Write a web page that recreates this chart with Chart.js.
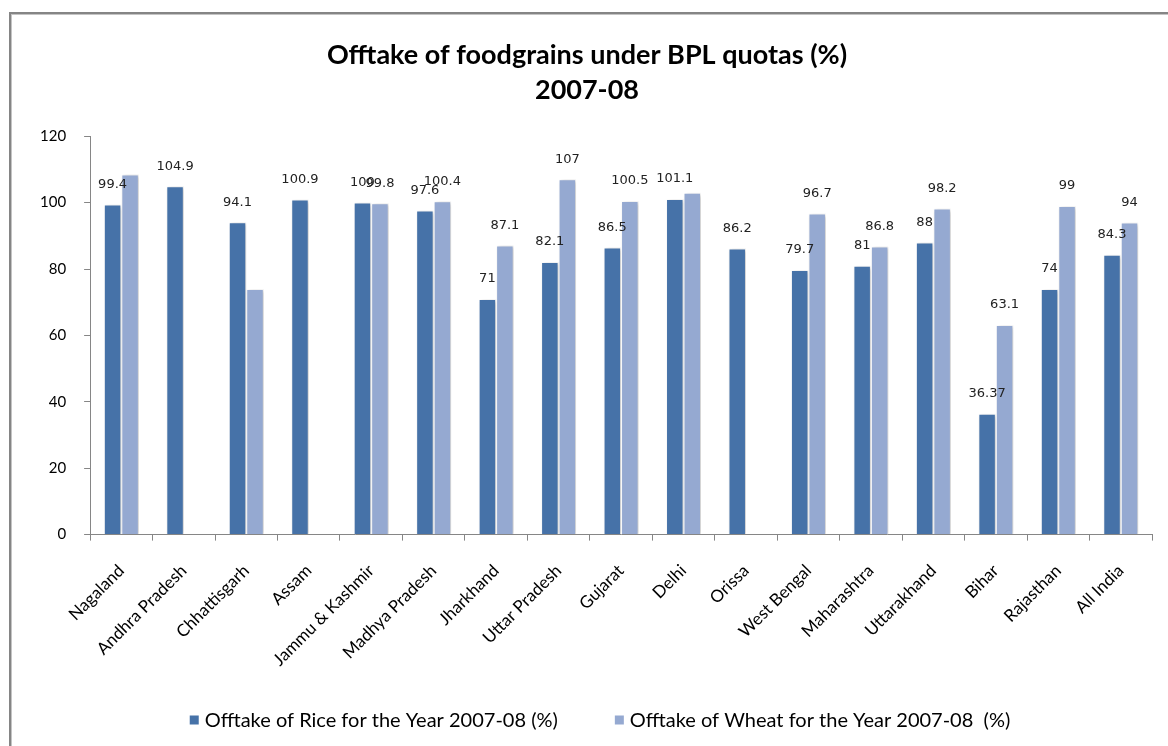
<!DOCTYPE html>
<html>
<head>
<meta charset="utf-8">
<script src="https://cdn.jsdelivr.net/npm/chart.js@4.4.1/dist/chart.umd.min.js"></script>
<style>
    html, body { margin: 0; padding: 0; background: #fff; }
    #wrap { position: relative; width: 1168px; height: 746px; overflow: hidden; }
    #frame {
        position: absolute; left: 9px; top: 12px; width: 1200px; height: 800px;
        border-left: 2px solid #858585; border-top: 2px solid #858585;
        box-shadow: inset 1px 1px 0 #c4c4c4; pointer-events: none;
    }
</style>
</head>
<body>
<div id="wrap">
    <canvas id="bplChart"></canvas>
    <div id="frame"></div>
</div>
<script>
// --- Data ---
const STATES = [
    'Nagaland', 'Andhra Pradesh', 'Chhattisgarh', 'Assam', 'Jammu & Kashmir',
    'Madhya Pradesh', 'Jharkhand', 'Uttar Pradesh', 'Gujarat', 'Delhi', 'Orissa',
    'West Bengal', 'Maharashtra', 'Uttarakhand', 'Bihar', 'Rajasthan', 'All India'
];
const RICE  = [99.4, 104.9, 94.1, 100.9, 100, 97.6, 71, 82.1, 86.5, 101.1, 86.2, 79.7, 81, 88, 36.37, 74, 84.3];
const WHEAT = [108.5, null, 74, null, 99.8, 100.4, 87.1, 107, 100.5, 103, null, 96.7, 86.8, 98.2, 63.1, 99, 94];
// which wheat values carry a data label in the original
const WHEAT_LABELLED = [false, false, false, false, true, true, true, true, true, false, false, true, true, true, true, true, true];
const Y_TICKS = { min: 0, max: 120, step: 20 };

const RICE_COLOR = '#4672a8';
const WHEAT_COLOR = '#95a9d1';

const TITLE_LINES = ['Offtake of foodgrains under BPL quotas (%)', '2007-08'];
const LEGEND_TEXT = ['Offtake of Rice for the Year 2007-08 (%)', 'Offtake of Wheat for the Year 2007-08  (%)'];

const FONT_UI = "Lato, 'Open Sans', sans-serif";
const FONT_LBL = "'DejaVu Sans', Verdana, sans-serif";

// soft excel-ish shadow behind bars
const barShadow = {
    id: 'barShadow',
    beforeDatasetsDraw(chart) {
        const ctx = chart.ctx;
        ctx.save();
        ctx.shadowColor = 'rgba(0,0,0,0.22)';
        ctx.shadowBlur = 4;
        ctx.shadowOffsetX = 2;
        ctx.shadowOffsetY = 1;
    },
    afterDatasetsDraw(chart) {
        chart.ctx.restore();
    }
};

// value labels above bars
const valueLabels = {
    id: 'valueLabels',
    afterDatasetsDraw(chart) {
        const ctx = chart.ctx;
        ctx.save();
        ctx.font = '13px ' + FONT_LBL;
        ctx.fillStyle = '#222';
        ctx.textAlign = 'center';
        ctx.textBaseline = 'middle';
        chart.data.datasets.forEach((ds, di) => {
            const meta = chart.getDatasetMeta(di);
            meta.data.forEach((bar, i) => {
                const v = ds.data[i];
                if (v === null) return;
                if (di === 1 && !WHEAT_LABELLED[i]) return;
                ctx.fillText(String(v), bar.x, bar.y - 20);
            });
        });
        ctx.restore();
    }
};

// bottom legend with excel-like spacing
const bottomLegend = {
    id: 'bottomLegend',
    afterDraw(chart) {
        const ctx = chart.ctx;
        const box = 9, gapText = 6, gapItem = 57;
        ctx.save();
        ctx.font = '20px ' + FONT_UI;
        ctx.textBaseline = 'middle';
        const widths = LEGEND_TEXT.map(t => ctx.measureText(t).width);
        const total = widths.reduce((a, w) => a + box + gapText + w, 0) + gapItem;
        let x = 600 - total / 2;
        const y = 720;
        chart.data.datasets.forEach((ds, i) => {
            ctx.fillStyle = ds.backgroundColor;
            ctx.fillRect(x, y - box / 2, box, box);
            x += box + gapText;
            ctx.fillStyle = '#000';
            ctx.fillText(LEGEND_TEXT[i], x, y + 1);
            x += widths[i] + gapItem;
        });
        ctx.restore();
    }
};

const ctx = document.getElementById('bplChart').getContext('2d');
new Chart(ctx, {
    type: 'bar',
    data: {
        labels: STATES,
        datasets: [
            { label: LEGEND_TEXT[0], data: RICE, backgroundColor: RICE_COLOR },
            { label: LEGEND_TEXT[1], data: WHEAT, backgroundColor: WHEAT_COLOR }
        ]
    },
    options: {
        responsive: true,
        maintainAspectRatio: false,
        animation: false,
        layout: { padding: { left: 22, right: 16, top: 38, bottom: 56 } },
        datasets: {
            bar: {
                categoryPercentage: 0.56,
                barPercentage: 1,
                borderColor: '#ffffff',
                borderWidth: 1
            }
        },
        plugins: {
            legend: { display: false },
            tooltip: { enabled: false },
            title: {
                display: true,
                text: TITLE_LINES,
                color: '#000',
                font: { family: FONT_UI, size: 27, weight: 'bold', lineHeight: 1.3 },
                padding: { top: 0, bottom: 28 }
            }
        },
        scales: {
            x: {
                grid: { display: true, drawOnChartArea: false, drawTicks: true, tickLength: 6, offset: true, color: '#868686' },
                border: { color: '#868686', width: 1 },
                ticks: {
                    color: '#000',
                    font: { family: FONT_UI, size: 17 },
                    maxRotation: 45,
                    minRotation: 45,
                    autoSkip: false,
                    padding: 20
                }
            },
            y: {
                min: Y_TICKS.min,
                max: Y_TICKS.max,
                grid: { display: true, drawOnChartArea: false, drawTicks: true, tickLength: 6, color: '#868686' },
                border: { color: '#868686', width: 1 },
                ticks: {
                    stepSize: Y_TICKS.step,
                    color: '#000',
                    font: { family: FONT_UI, size: 15 },
                    padding: 18
                }
            }
        }
    },
    plugins: [barShadow, valueLabels, bottomLegend]
});
</script>
</body>
</html>
